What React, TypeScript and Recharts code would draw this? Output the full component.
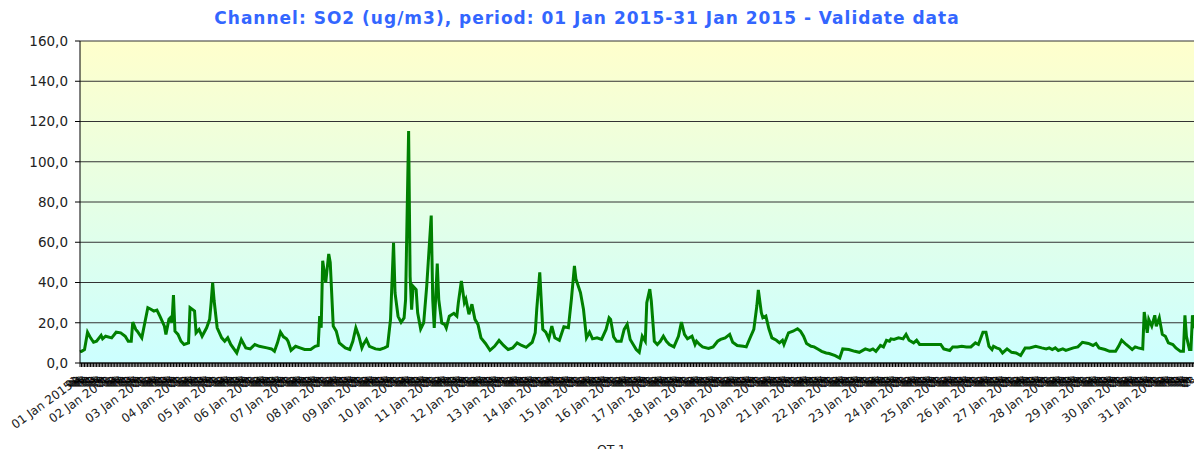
import React from 'react';
import { LineChart, Line, XAxis, YAxis, CartesianGrid } from 'recharts';

// hourly SO2 readings, [hour since 01 Jan 00:00, ug/m3], vertices
const week1: [number, number][] = [
  [0, 5.5], [1, 5.8], [3, 6.7], [5, 15.3], [7, 12.5], [9, 10.3], [11, 10.8], [14, 13.7], [15, 12], [17, 13.3],
  [21, 12.5], [24, 15.3], [27, 15], [30, 13.3], [32, 10.8], [34, 10.8], [35, 20.3], [37, 16.7], [38, 15.8], [41, 12.5],
  [43, 20], [45, 27.5], [47, 26.7], [49, 25.8], [51, 26.3], [53, 23.3], [56, 18.3], [57, 14.2], [59, 21.7], [60, 22.5],
  [61, 20], [62, 33.7], [63, 15.8], [65, 14.2], [67, 10.8], [69, 9.2], [72, 10], [73, 27.5], [76, 25.8], [77, 15],
  [79, 16.7], [81, 13.3], [84, 17.5], [86, 21.7], [87, 30], [88, 40], [89, 30.8], [91, 17.5], [94, 12.5], [96, 10.8],
  [98, 12.5], [100, 9.2], [104, 5], [107, 11.7], [110, 7.5], [113, 7], [116, 9.2], [119, 8.3], [124, 7.5], [127, 7],
  [129, 5.8], [131, 10], [133, 15.3], [135, 13], [137, 12], [138, 10.8], [140, 6.3], [143, 8.3], [146, 7.5], [149, 6.7],
  [153, 6.7], [156, 8.3], [158, 8.7], [159, 23.3], [160, 17.5], [161, 50.8], [163, 40], [165, 54.2], [166, 50],
];

const week2: [number, number][] = [
  [168, 18.3], [170, 15.8], [172, 10], [176, 7.5], [179, 6.7], [181, 10.8], [183, 17.5], [185, 13.3], [187, 7.5], [188, 9.2],
  [190, 11.7], [192, 8.3], [196, 7], [199, 6.7], [202, 7.5], [204, 8.3], [206, 21.6], [208, 59.7], [209, 34.8], [211, 23.2],
  [213, 20.2], [215, 22.4], [216, 31.5], [218, 115.3], [219, 43], [220, 26.5], [221, 38.1], [223, 36.5], [224, 24.9], [226, 16.9],
  [228, 19.9], [230, 38.1], [231, 49.8], [233, 73.3], [234, 31.5], [235, 17.4], [237, 49.4], [238, 31.5], [240, 19.9], [242, 19.1],
  [243, 17.4], [245, 23.3], [248, 24.7], [250, 23.3], [251, 30], [253, 40.8], [255, 30], [256, 31.7], [258, 24.2], [260, 29.2],
  [262, 21.7], [264, 19.2], [266, 12.5], [269, 9.7], [272, 6.3], [275, 8.3], [278, 11.2], [281, 8.7], [284, 6.7], [287, 7.5],
  [290, 10], [293, 8.7], [296, 7.8], [300, 10.3], [302, 15], [303, 26.7], [305, 45], [307, 16.7], [309, 15.3], [311, 12],
  [313, 18.3], [315, 12.5], [318, 11.3], [321, 18], [324, 17.5], [326, 31.7], [328, 48.3], [329, 41.7], [332, 35], [334, 26.7],
];

const week3: [number, number][] = [
  [336, 12.5], [338, 15.3], [340, 12], [343, 12.5], [346, 11.7], [349, 16.7], [351, 22.5], [352, 21.7], [354, 13], [356, 10.8],
  [359, 10.8], [361, 16.7], [363, 19.2], [365, 11.7], [367, 9.2], [369, 6.7], [371, 5.3], [373, 13.3], [375, 10.8], [376, 30],
  [378, 36.7], [379, 30.8], [381, 10.8], [383, 9.2], [385, 10.8], [387, 13.3], [389, 10.8], [391, 9.2], [394, 8], [397, 13.3],
  [399, 20.3], [401, 14.2], [403, 12], [406, 13.3], [408, 9.2], [409, 10.8], [411, 9.2], [413, 8], [417, 7.2], [420, 8],
  [423, 10.8], [425, 11.7], [428, 12.5], [431, 14.2], [433, 10.3], [436, 8.7], [440, 8.3], [442, 8], [445, 13.3], [447, 16.7],
  [449, 28.3], [450, 36.3], [452, 25], [453, 22.5], [455, 23.3], [457, 17], [459, 12.5], [462, 11.3], [464, 10], [466, 11.3],
  [467, 9.2], [470, 15], [473, 15.8], [476, 17], [478, 15.8], [480, 13.3], [482, 9.7], [485, 8.3], [487, 8], [490, 6.7],
  [492, 5.8], [495, 5], [497, 4.7], [501, 3.7],
];

const week4: [number, number][] = [
  [504, 2.5], [506, 7], [510, 6.7], [514, 5.8], [517, 5.3], [521, 7], [524, 6.3], [526, 7], [528, 5.8], [531, 8.7],
  [533, 8], [535, 11.3], [537, 10.8], [538, 12], [540, 11.7], [543, 12.5], [546, 12], [548, 14.2], [550, 11.3], [553, 10],
  [555, 11.3], [557, 9.2], [571, 9.2], [573, 7], [577, 6.2], [579, 8], [582, 8], [585, 8.3], [588, 8], [591, 8],
  [594, 10], [596, 9.2], [599, 15.3], [601, 15.3], [603, 8.3], [605, 6.7], [606, 8.3], [608, 7.5], [610, 7], [612, 5],
  [615, 7], [618, 5.3], [621, 5], [624, 3.7], [627, 7.5], [630, 7.5], [634, 8.3], [638, 7.5], [641, 7], [643, 7.5],
  [645, 6.7], [647, 7.5], [649, 6.2], [652, 7], [654, 6.3], [659, 7.5], [662, 8], [665, 10.3], [669, 9.7],
];

const week5: [number, number][] = [
  [672, 8.7], [674, 9.7], [676, 7.5], [680, 6.7], [683, 5.8], [687, 5.8], [689, 8.3], [691, 11.3], [694, 9.2], [696, 8],
  [698, 6.7], [700, 8], [702, 7.5], [705, 7], [706, 25.3], [708, 15], [709, 21.7], [711, 18.3], [713, 23.7], [714, 18.3],
  [716, 22.5], [718, 14.2], [720, 13.3], [722, 10], [725, 9.2], [727, 7.5], [730, 5.8], [732, 5.8], [733, 23.7], [734, 13.3],
  [736, 6.7], [737, 6.7], [738, 23.7], [740, 16.7], [742, 12.5], [743, 10.8],
];

const dayLabels = [
  '01 Jan 2015', '02 Jan 20', '03 Jan 20', '04 Jan 20', '05 Jan 20', '06 Jan 20', '07 Jan 20', '08 Jan 20',
  '09 Jan 20', '10 Jan 20', '11 Jan 20', '12 Jan 20', '13 Jan 20', '14 Jan 20', '15 Jan 20', '16 Jan 20',
  '17 Jan 20', '18 Jan 20', '19 Jan 20', '20 Jan 20', '21 Jan 20', '22 Jan 20', '23 Jan 20', '24 Jan 20',
  '25 Jan 20', '26 Jan 20', '27 Jan 20', '28 Jan 20', '29 Jan 20', '30 Jan 20', '31 Jan 20',
];

const hourLabels = [
  '01', '02', '03', '04', '05', '06', '07', '08', '09', '10', '11', '12',
  '13', '14', '15', '16', '17', '18', '19', '20', '21', '22', '23',
];

const yTicks = [0, 20, 40, 60, 80, 100, 120, 140, 160];

const data = [...week1, ...week2, ...week3, ...week4, ...week5].map(([h, v]) => ({ h, v }));
const hourTicks = Array.from({ length: dayLabels.length * 24 }, (_, i) => i);

const FONT = '"DejaVu Sans", Verdana, sans-serif';
const GREEN = '#008000';

const HourTick = (props: any) => {
  const { x, y, payload } = props;
  const h = payload.value as number;
  const day = h % 24 === 0;
  // the first label is shown whole, the others lose their tail under the hour labels
  let ax = x - 4;
  let ay = y + 12;
  if (day) {
    ax = h === 0 ? x - 6.5 : x - 17.5;
    ay = h === 0 ? y + 18 : y + 21;
  }
  return (
    <text
      x={ax}
      y={ay}
      transform={`rotate(-36 ${ax} ${ay})`}
      textAnchor="end"
      fontSize={day ? 12 : 9}
      fill={day ? '#222' : '#000'}
      fontFamily={FONT}
    >
      {day ? dayLabels[h / 24] : hourLabels[(h % 24) - 1]}
    </text>
  );
};

export default function App() {
  return (
    <div style={{ width: 1202, height: 457, margin: -8, overflow: 'hidden', background: '#fff' }}>
      <LineChart width={1202} height={457} data={data} margin={{ top: 41, right: 2, left: 10, bottom: 34 }}>
        <defs>
          <linearGradient id="plotBg" x1="0" y1="0" x2="0" y2="1">
            <stop offset="0%" stopColor="#ffffcc" />
            <stop offset="100%" stopColor="#ccffff" />
          </linearGradient>
        </defs>
        <text
          x={587}
          y={24}
          textAnchor="middle"
          fontFamily={FONT}
          fontWeight="bold"
          fontSize={17}
          letterSpacing={1}
          fill="#3366ff"
        >
          Channel: SO2 (ug/m3), period: 01 Jan 2015-31 Jan 2015 - Validate data
        </text>
        <CartesianGrid vertical={false} stroke="#333" fill="url(#plotBg)" fillOpacity={1} />
        <XAxis
          dataKey="h"
          type="number"
          domain={[0, 743]}
          ticks={hourTicks}
          interval={0}
          height={60}
          stroke="#000"
          tickSize={4}
          tick={<HourTick />}
        />
        <YAxis
          domain={[0, 160]}
          ticks={yTicks}
          width={70}
          stroke="#000"
          tickSize={5}
          tickMargin={7}
          tick={{ fontSize: 13.5, fill: '#222', fontFamily: FONT }}
          tickFormatter={(v: number) => v.toFixed(1).replace('.', ',')}
        />
        <Line
          type="linear"
          dataKey="v"
          stroke={GREEN}
          strokeWidth={3}
          dot={false}
          isAnimationActive={false}
          name="OT-1 -"
        />
        <line x1={562} y1={451} x2={593} y2={451} stroke={GREEN} strokeWidth={3} />
        <text x={597} y={454} fontFamily={FONT} fontSize={12.5} fill="#222">
          OT-1 -
        </text>
      </LineChart>
    </div>
  );
}
